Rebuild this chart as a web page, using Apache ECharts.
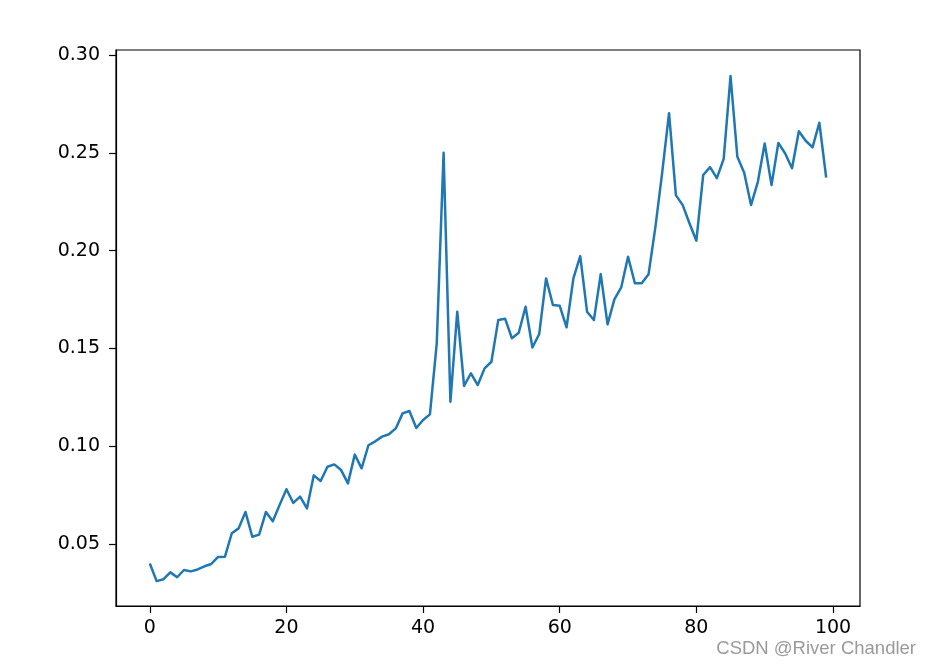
<!DOCTYPE html>
<html>
<head>
<meta charset="utf-8">
<script src="https://cdn.jsdelivr.net/npm/echarts@6/dist/echarts.min.js"></script>
<style>html,body{margin:0;padding:0;background:#fff;}#c{width:933px;height:667px;}</style>
</head>
<body>
<div id="c"></div>
<script>
const xTicks = [0, 20, 40, 60, 80, 100];
const yTicks = [0.05, 0.10, 0.15, 0.20, 0.25, 0.30];
const values = [
  0.040, 0.031, 0.032, 0.0355, 0.033, 0.0367, 0.036, 0.037, 0.0386, 0.0398,
  0.0434, 0.0435, 0.0555, 0.058, 0.0664, 0.0537, 0.0548, 0.0664, 0.0616, 0.070,
  0.078, 0.0710, 0.0742, 0.0682, 0.0851, 0.0822, 0.0895, 0.0907, 0.0878, 0.081,
  0.0957, 0.0887, 0.1005, 0.1025, 0.1049, 0.1061, 0.1091, 0.1168, 0.118, 0.1093,
  0.1134, 0.1163, 0.1526, 0.250, 0.1228, 0.1688, 0.1308, 0.1373, 0.1313, 0.1398,
  0.1432, 0.1645, 0.1652, 0.1552, 0.158, 0.1713, 0.1505, 0.1574, 0.1858, 0.1722,
  0.1718, 0.1608, 0.1858, 0.1972, 0.1688, 0.1645, 0.188, 0.1623, 0.1751, 0.1812,
  0.1969, 0.1833, 0.1833, 0.1879, 0.212, 0.240, 0.2703, 0.2284, 0.2233, 0.2139,
  0.2051, 0.2387, 0.2427, 0.2371, 0.2469, 0.2893, 0.248, 0.2398, 0.2233, 0.2352,
  0.2548, 0.2335, 0.2551, 0.2497, 0.2421, 0.2611, 0.2562, 0.2528, 0.2654, 0.2373
];
const data = values.map((v, i) => [i, v]);

const chart = echarts.init(document.getElementById('c'), null, {renderer: 'canvas'});
const font = 'DejaVu Sans';
chart.setOption({
  animation: false,
  backgroundColor: '#fff',
  grid: {left: 116, top: 50, width: 744, height: 556, show: true, borderColor: '#000', borderWidth: 1.2, backgroundColor: 'transparent'},
  xAxis: {
    type: 'value', min: -4.95, max: 103.95,
    axisLine: {show: true, onZero: false, lineStyle: {color: '#000', width: 1.2}},
    axisTick: {show: true, length: 7, inside: false, customValues: xTicks, lineStyle: {color: '#000', width: 1.2}},
    axisLabel: {customValues: xTicks, margin: 13, color: '#000', fontSize: 19, fontFamily: font, formatter: v => String(Math.round(v))},
    splitLine: {show: false}
  },
  yAxis: {
    type: 'value', min: 0.0183, max: 0.3026,
    axisLine: {show: true, onZero: false, lineStyle: {color: '#000', width: 1.2}},
    axisTick: {show: true, length: 7, inside: false, customValues: yTicks, lineStyle: {color: '#000', width: 1.2}},
    axisLabel: {customValues: yTicks, margin: 16, color: '#000', fontSize: 19, fontFamily: font, formatter: v => v.toFixed(2)},
    splitLine: {show: false}
  },
  series: [{
    type: 'line', data: data, showSymbol: false, symbol: 'none',
    lineStyle: {color: '#1f77b4', width: 2.5, join: 'round'},
    itemStyle: {color: '#1f77b4'}
  }],
  graphic: [{
    type: 'text', right: 17, top: 639,
    style: {text: 'CSDN @River Chandler', fill: '#9a9a9a', font: '18.5px "Liberation Sans", Arial, sans-serif'}
  }]
});
</script>
</body>
</html>
